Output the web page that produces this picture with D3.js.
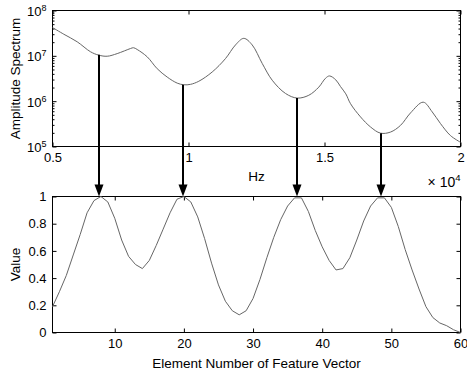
<!DOCTYPE html>
<html>
<head>
<meta charset="utf-8">
<script src="https://cdn.jsdelivr.net/npm/d3@7"></script>
<style>
  body { margin: 0; background: #fff; }
  svg { display: block; font-family: 'Liberation Sans', Arial, sans-serif; }
</style>
</head>
<body>
<svg id="chart" width="467" height="381"></svg>
<script>
// spectrum (top plot)
const hz = [5000, 5415, 5908, 6397, 6702, 7011, 7379, 7868, 7978, 8114, 8482, 8849, 9217, 9585, 9827,
  10074, 10379, 10871, 11360, 11728, 12033, 12342, 12710, 13077, 13566, 13996, 14423, 14790, 15037,
  15184, 15415, 15588, 15783, 15956, 16324, 16691, 17059, 17426, 17794, 18162, 18629, 18960, 19265, 19632, 20000];
const amplitude = [4.2e7, 3.0e7, 2.04e7, 1.23e7, 1.035e7, 9.8e6, 1.12e7, 1.45e7, 1.51e7, 1.38e7, 9.5e6,
  5.2e6, 3.4e6, 2.5e6, 2.3e6, 2.35e6, 2.75e6, 4.4e6, 8.7e6, 1.74e7, 2.43e7, 1.74e7, 6.8e6, 2.9e6, 1.48e6,
  1.17e6, 1.35e6, 2.04e6, 3.2e6, 3.6e6, 2.95e6, 2.1e6, 1.45e6, 8.8e5, 4.5e5, 2.7e5, 1.97e5, 2.08e5, 2.92e5,
  5.5e5, 9.5e5, 5.8e5, 3.2e5, 1.74e5, 1.24e5];

// feature vector (bottom plot), elements 1..60
const featureValues = [0.19, 0.30, 0.42, 0.57, 0.72, 0.88, 0.97, 1.00, 0.96, 0.84,
  0.68, 0.56, 0.50, 0.47, 0.53, 0.64, 0.76, 0.88, 0.98, 1.00,
  0.96, 0.85, 0.69, 0.51, 0.35, 0.23, 0.16, 0.13, 0.16, 0.25,
  0.39, 0.55, 0.70, 0.83, 0.93, 0.99, 0.99, 0.89, 0.75, 0.63,
  0.53, 0.46, 0.47, 0.55, 0.68, 0.82, 0.93, 0.99, 0.99, 0.92,
  0.78, 0.61, 0.46, 0.32, 0.19, 0.11, 0.07, 0.05, 0.02, 0.00];
const elements = featureValues.map((d, i) => i + 1);

// arrows: valleys of the spectrum -> peaks of the feature vector
const arrowHz = [6702, 9805, 13971, 17059];
const arrowAmp = [1.05e7, 2.3e6, 1.17e6, 1.97e5];

const topXTicks = [5000, 10000, 15000, 20000];
const topXLabels = ['0.5', '1', '1.5', '2'];
const topYMajor = [1e5, 1e6, 1e7, 1e8];
const bottomXTicks = [10, 20, 30, 40, 50, 60];
const bottomYTicks = [0, 0.2, 0.4, 0.6, 0.8, 1];

const svg = d3.select('#chart');
const left = 52.5;
const right = 460.5;

const xTop = d3.scaleLinear().domain([5000, 20000]).range([left, right]);
const yTop = d3.scaleLog().domain([1e5, 1e8]).range([146.5, 10.5]);
const xBot = d3.scaleLinear().domain([1, 60]).range([left, right]);
const yBot = d3.scaleLinear().domain([0, 1]).range([332.5, 196.5]);

const minorLog = yTop.ticks().filter(d => !topYMajor.includes(d));

function box(xs, ys) {
  svg
    .append('rect')
    .attr('x', xs.range()[0])
    .attr('y', ys.range()[1])
    .attr('width', xs.range()[1] - xs.range()[0])
    .attr('height', ys.range()[0] - ys.range()[1])
    .attr('fill', 'none')
    .attr('stroke', '#000')
    .attr('stroke-width', 1);
}

function ticksOnly(axis, transform) {
  const g = svg.append('g').attr('transform', transform).call(axis);
  g.select('.domain').remove();
  g.selectAll('line').attr('stroke', '#000');
  return g;
}

// ---- top plot ----
box(xTop, yTop);

const topBottomAxis = ticksOnly(
  d3.axisBottom(xTop).tickValues(topXTicks).tickSizeInner(-4).tickSizeOuter(0).tickPadding(6)
    .tickFormat((d, i) => topXLabels[i]),
  `translate(0, ${yTop.range()[0]})`
);
topBottomAxis.selectAll('text').attr('font-size', 13).attr('fill', '#000');
ticksOnly(d3.axisTop(xTop).tickValues(topXTicks).tickSize(-4).tickFormat(''), `translate(0, ${yTop.range()[1]})`);

ticksOnly(d3.axisLeft(yTop).tickValues(minorLog).tickSize(-2).tickFormat(''), `translate(${left}, 0)`);
ticksOnly(d3.axisRight(yTop).tickValues(minorLog).tickSize(-2).tickFormat(''), `translate(${right}, 0)`);
const logAxis = ticksOnly(
  d3.axisLeft(yTop).tickValues(topYMajor).tickSizeInner(-4).tickSizeOuter(0).tickFormat(''),
  `translate(${left}, 0)`
);
ticksOnly(d3.axisRight(yTop).tickValues(topYMajor).tickSize(-4).tickFormat(''), `translate(${right}, 0)`);

const logLabel = logAxis
  .selectAll('.tick')
  .append('text')
  .attr('x', -6)
  .attr('dy', '0.38em')
  .attr('text-anchor', 'end')
  .attr('font-size', 13)
  .attr('fill', '#000');
logLabel.append('tspan').text('10');
logLabel
  .append('tspan')
  .attr('dy', '-0.55em')
  .attr('font-size', 9)
  .text(d => Math.round(Math.log10(d)));

svg
  .append('path')
  .datum(hz.map((d, i) => ({ hz: d, amp: amplitude[i] })))
  .attr('fill', 'none')
  .attr('stroke', '#666')
  .attr('stroke-width', 1)
  .attr('d', d3.line().curve(d3.curveCatmullRom).x(d => xTop(d.hz)).y(d => yTop(d.amp)));

svg
  .append('text')
  .attr('transform', `translate(20, ${(yTop.range()[0] + yTop.range()[1]) / 2}) rotate(-90)`)
  .attr('text-anchor', 'middle')
  .attr('font-size', 13.5)
  .text('Amplitude Spectrum');

svg
  .append('text')
  .attr('x', (left + right) / 2)
  .attr('y', 181)
  .attr('text-anchor', 'middle')
  .attr('font-size', 13.5)
  .text('Hz');

const expo = svg
  .append('text')
  .attr('x', right)
  .attr('y', 187)
  .attr('text-anchor', 'end')
  .attr('font-size', 14);
expo.append('tspan').text('\u00d7 10');
expo.append('tspan').attr('dy', '-0.6em').attr('font-size', 9.5).text('4');

// ---- bottom plot ----
box(xBot, yBot);

const botXAxis = ticksOnly(
  d3.axisBottom(xBot).tickValues(bottomXTicks).tickSizeInner(-4).tickSizeOuter(0).tickPadding(6),
  `translate(0, ${yBot.range()[0]})`
);
botXAxis.selectAll('text').attr('font-size', 13).attr('fill', '#000');
ticksOnly(d3.axisTop(xBot).tickValues(bottomXTicks).tickSize(-4).tickFormat(''), `translate(0, ${yBot.range()[1]})`);

const botYAxis = ticksOnly(
  d3.axisLeft(yBot).tickValues(bottomYTicks).tickSizeInner(-4).tickSizeOuter(0).tickPadding(6)
    .tickFormat(d3.format('~g')),
  `translate(${left}, 0)`
);
botYAxis.selectAll('text').attr('font-size', 13).attr('fill', '#000');
ticksOnly(d3.axisRight(yBot).tickValues(bottomYTicks).tickSize(-4).tickFormat(''), `translate(${right}, 0)`);

svg
  .append('path')
  .datum(elements.map((d, i) => ({ n: d, v: featureValues[i] })))
  .attr('fill', 'none')
  .attr('stroke', '#666')
  .attr('stroke-width', 1)
  .attr('d', d3.line().x(d => xBot(d.n)).y(d => yBot(d.v)));

svg
  .append('text')
  .attr('transform', `translate(20, ${(yBot.range()[0] + yBot.range()[1]) / 2}) rotate(-90)`)
  .attr('text-anchor', 'middle')
  .attr('font-size', 13.5)
  .text('Value');

svg
  .append('text')
  .attr('x', (left + right) / 2)
  .attr('y', 368)
  .attr('text-anchor', 'middle')
  .attr('font-size', 13.5)
  .text('Element Number of Feature Vector');

// ---- arrows ----
const tipY = yBot(1);
const headLen = 12;
const arrows = svg
  .selectAll('.arrow')
  .data(arrowHz.map((d, i) => ({ hz: d, amp: arrowAmp[i] })))
  .join('g')
  .attr('class', 'arrow');

arrows
  .append('line')
  .attr('x1', d => Math.round(xTop(d.hz)))
  .attr('x2', d => Math.round(xTop(d.hz)))
  .attr('y1', d => yTop(d.amp))
  .attr('y2', tipY - headLen + 1)
  .attr('stroke', '#000')
  .attr('stroke-width', 2);

arrows
  .append('path')
  .attr('fill', '#000')
  .attr('d', d => {
    const x = Math.round(xTop(d.hz));
    return `M${x - 4.5},${tipY - headLen}L${x + 4.5},${tipY - headLen}L${x},${tipY}Z`;
  });
</script>
</body>
</html>
